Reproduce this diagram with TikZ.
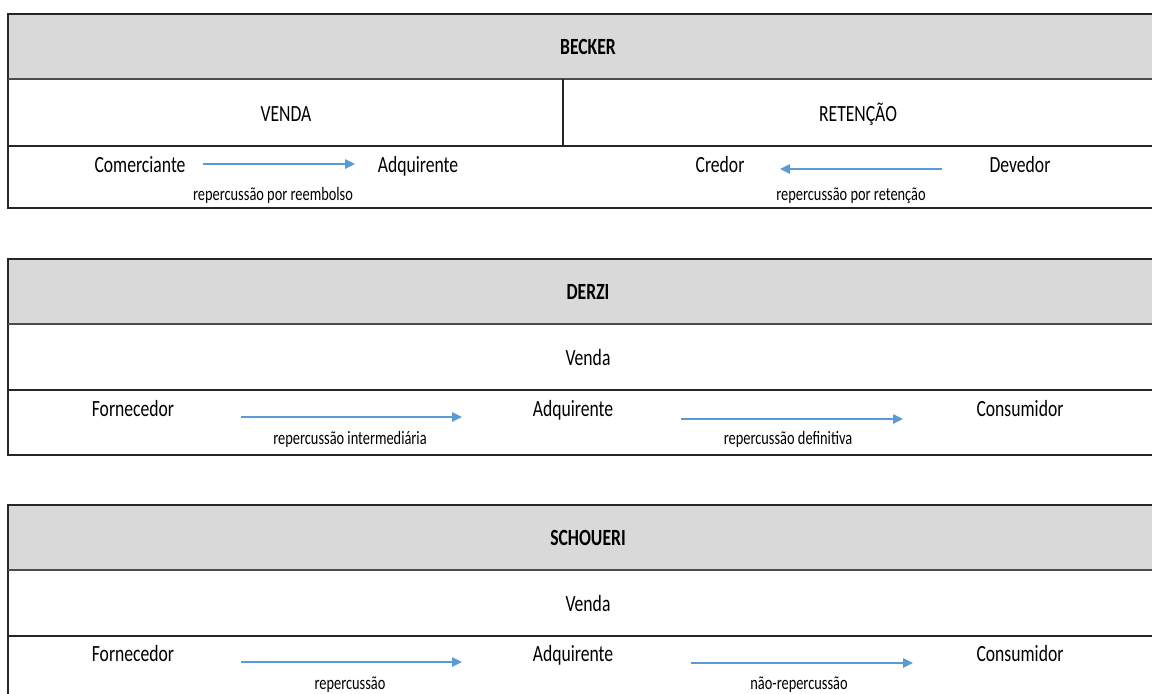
\documentclass[tikz,border=0pt]{standalone}
\usepackage{fontspec}
\setmainfont{Carlito}[FakeStretch=0.76]
\usetikzlibrary{arrows.meta}
\definecolor{hdr}{HTML}{D9D9D9}
\definecolor{arr}{HTML}{5B9BD5}
\begin{document}
\begin{tikzpicture}[x=0.75pt,y=-0.75pt,
  main/.style={anchor=base,inner sep=0,font=\fontsize{17.4}{19}\selectfont},
  hd/.style={anchor=base,inner sep=0,font=\fontsize{17.4}{19}\selectfont\bfseries},
  lbl/.style={anchor=base,inner sep=0,font=\fontsize{14.2}{16}\selectfont},
  flow/.style={arr,line width=1.1pt,-{Triangle[length=7.5pt,width=7pt]}},
  frame/.style={line width=1.7pt,black!85},
  hline/.style={line width=1.9pt,black!70},
  rowline/.style={line width=1.3pt,black!85}]
\clip (0,0) rectangle (1152,693);
\fill[white] (0,0) rectangle (1152,693);

% ---------- BECKER ----------
\fill[hdr] (8,14) rectangle (1160,79);
\draw[frame] (1160,14) -- (8,14) -- (8,208) -- (1160,208);
\draw[hline] (8,79) -- (1160,79);
\draw[rowline] (8,146) -- (1160,146);
\draw[rowline] (563,79) -- (563,146);
\node[hd] (becker) at (588,54) {BECKER};
\node[main] (venda1) at (286,121) {VENDA};
\node[main] (retencao) at (858,121) {RETENÇÃO};
\node[main] (comerciante) at (140,172) {Comerciante};
\node[main] (adq1) at (418,172) {Adquirente};
\node[main] (credor) at (720,172) {Credor};
\node[main] (devedor) at (1020,172) {Devedor};
\node[lbl] (l1) at (273,200) {repercussão por reembolso};
\node[lbl] (l2) at (851,200) {repercussão por retenção};
\coordinate (a1s) at (203,164);
\coordinate (a1e) at (355,164);
\coordinate (a2s) at (942,169);
\coordinate (a2e) at (780,169);
\draw[flow] (a1s) -- (a1e);
\draw[flow] (a2s) -- (a2e);

% ---------- DERZI ----------
\fill[hdr] (8,259) rectangle (1160,324);
\draw[frame] (1160,259) -- (8,259) -- (8,455) -- (1160,455);
\draw[hline] (8,324) -- (1160,324);
\draw[rowline] (8,390) -- (1160,390);
\node[hd] (derzi) at (588,299) {DERZI};
\node[main] (venda2) at (588,365) {Venda};
\node[main] (forn2) at (133,416) {Fornecedor};
\node[main] (adq2) at (573,416) {Adquirente};
\node[main] (cons2) at (1020,416) {Consumidor};
\node[lbl] (l3) at (350,444) {repercussão intermediária};
\node[lbl] (l4) at (788,444) {repercussão definitiva};
\coordinate (b1s) at (241,417);
\coordinate (b1e) at (462,417);
\coordinate (b2s) at (681,419);
\coordinate (b2e) at (903,419);
\draw[flow] (b1s) -- (b1e);
\draw[flow] (b2s) -- (b2e);

% ---------- SCHOUERI ----------
\fill[hdr] (8,505) rectangle (1160,570);
\draw[frame] (1160,505) -- (8,505) -- (8,700);
\draw[hline] (8,570) -- (1160,570);
\draw[rowline] (8,636) -- (1160,636);
\node[hd] (schoueri) at (588,545) {SCHOUERI};
\node[main] (venda3) at (588,611) {Venda};
\node[main] (forn3) at (133,661) {Fornecedor};
\node[main] (adq3) at (573,661) {Adquirente};
\node[main] (cons3) at (1020,661) {Consumidor};
\node[lbl] (l5) at (350,689) {repercussão};
\node[lbl] (l6) at (799,689) {não-repercussão};
\coordinate (c1s) at (241,662);
\coordinate (c1e) at (462,662);
\coordinate (c2s) at (691,663);
\coordinate (c2e) at (913,663);
\draw[flow] (c1s) -- (c1e);
\draw[flow] (c2s) -- (c2e);
\end{tikzpicture}
\end{document}
